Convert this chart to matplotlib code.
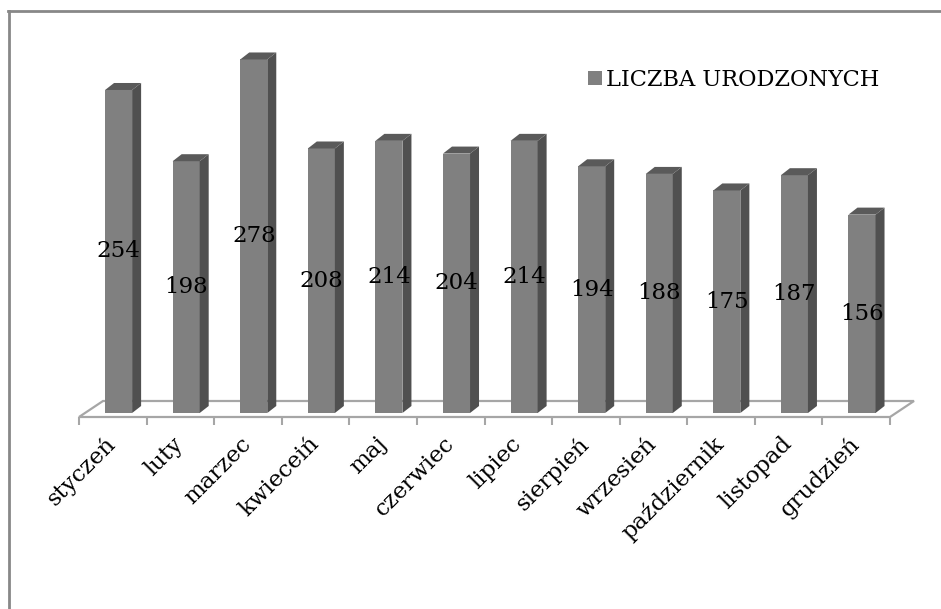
import matplotlib
matplotlib.use("Agg")
import matplotlib.pyplot as plt
from matplotlib.patches import Polygon, Patch
from matplotlib.lines import Line2D

months = ["styczeń", "luty", "marzec", "kwieceiń", "maj", "czerwiec", "lipiec",
          "sierpień", "wrzesień", "październik", "listopad", "grudzień"]
births = [254, 198, 278, 208, 214, 204, 214, 194, 188, 175, 187, 156]
series_name = "LICZBA URODZONYCH"

plt.rcParams["font.family"] = ["DejaVu Serif"]

W, H = 941, 609
fig = plt.figure(figsize=(W / 100, H / 100), dpi=100)
fig.patch.set_facecolor("white")

# pixel geometry of the plot area
x_left, x_right = 79, 890
y_floor, y_top = 417, 40
px_x = (x_right - x_left) / 12.0       # pixels per category
px_y = 1.2717                          # pixels per unit of value
ax = fig.add_axes([x_left / W, 1 - y_floor / H, (x_right - x_left) / W, (y_floor - y_top) / H])
y0 = -4 / px_y
ax.set_xlim(-0.5, 11.5)
ax.set_ylim(y0, (413 - y_top) / px_y)
for s in ax.spines.values():
    s.set_visible(False)
ax.set_yticks([])

# floor
fdx, fdy = 24 / px_x, 16 / px_y
floor = Polygon([(-0.5, y0), (11.5, y0), (11.5 + fdx, y0 + fdy), (-0.5 + fdx, y0 + fdy)],
                closed=True, facecolor="white", edgecolor="#a6a6a6", lw=1.6, clip_on=False, zorder=1)
ax.add_patch(floor)

# 3D bars
bw = 0.4
shift = 5.8 / px_x
ddx, ddy = 9 / px_x, 7 / px_y
xs = [i + shift for i in range(len(births))]
ax.bar(xs, births, width=bw, color="#808080", edgecolor="none", zorder=3)
for x, v in zip(xs, births):
    xl, xr = x - bw / 2, x + bw / 2
    side = Polygon([(xr, 0), (xr + ddx, ddy), (xr + ddx, v + ddy), (xr, v)],
                   closed=True, facecolor="#505050", edgecolor="none", zorder=3, clip_on=False)
    top = Polygon([(xl, v), (xl + ddx, v + ddy), (xr + ddx, v + ddy), (xr, v)],
                  closed=True, facecolor="#5a5a5a", edgecolor="none", zorder=3, clip_on=False)
    ax.add_patch(side)
    ax.add_patch(top)
    ax.text(x, v / 2, str(v), ha="center", va="center", fontsize=16.5, color="black", zorder=5)

# ticks and labels
ax.set_xticks(range(len(months)))
ax.set_xticklabels(months, rotation=45, ha="right", va="center", rotation_mode="anchor", fontsize=16.5)
ax.tick_params(axis="x", which="major", length=0, pad=17)
ax.set_xticks([i - 0.5 for i in range(len(months) + 1)], minor=True)
ax.tick_params(axis="x", which="minor", length=6, width=1.5, color="#a6a6a6", direction="out")

# legend
leg = fig.legend(handles=[Patch(facecolor="#808080", edgecolor="none", label=series_name)],
                 loc="upper left", bbox_to_anchor=(568 / W, 1 - 49 / H), frameon=False,
                 fontsize=16.2, handlelength=0.6, handleheight=0.6, handletextpad=0.2)

# outer frame (left and top edges only visible)
fig.add_artist(Line2D([9 / W, 9 / W], [0, 1 - 11 / H], color="#888888", lw=2))
fig.add_artist(Line2D([8 / W, 1], [1 - 11 / H, 1 - 11 / H], color="#888888", lw=2))

fig.savefig("out.png", dpi=100, facecolor="white")
